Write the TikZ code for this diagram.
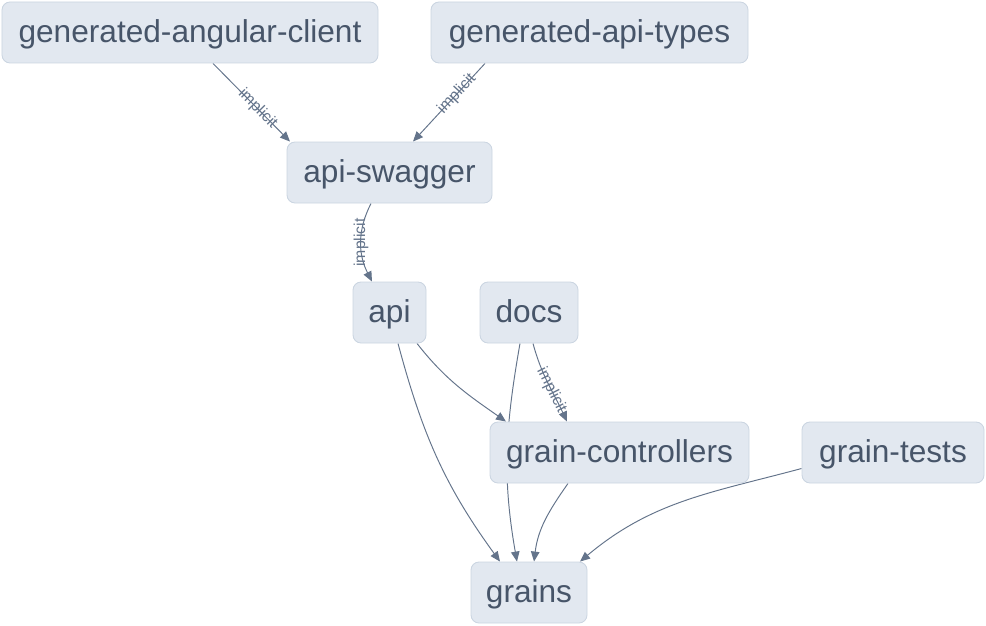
\documentclass[tikz,border=0pt]{standalone}
\usepackage{fontspec}
\setmainfont{Liberation Sans}
\usetikzlibrary{arrows.meta,backgrounds}

\definecolor{pkgfill}{HTML}{E2E8F0}
\definecolor{pkgborder}{HTML}{CBD5E1}
\definecolor{pkgtext}{HTML}{475569}
\definecolor{depline}{HTML}{64748B}

\tikzset{
  pkg/.style={draw=pkgborder, fill=pkgfill, text=pkgtext, rounded corners=0.16cm,
    minimum height=1.22cm, inner sep=0pt, line width=0.5pt,
    text height=0.5cm, text depth=0.09cm,
    font=\fontsize{18}{22}\selectfont},
  dep/.style={draw=depline, line width=0.55pt, -{Triangle[length=0.2cm,width=0.17cm]}},
  implicitlbl/.style={font=\fontsize{9}{10}\selectfont, text=depline, inner sep=0pt, sloped}
}

\begin{document}
\begin{tikzpicture}

\useasboundingbox (0,0) rectangle (19.72,-12.5);

% Project nodes
\node[pkg, minimum width=7.52cm] (gac) at (3.8,-0.65) {generated-angular-client};
\node[pkg, minimum width=6.34cm] (gat) at (11.79,-0.65) {generated-api-types};
\node[pkg, minimum width=4.1cm] (swagger) at (7.79,-3.45) {api-swagger};
\node[pkg, minimum width=1.46cm] (api) at (7.79,-6.25) {api};
\node[pkg, minimum width=1.96cm] (docs) at (10.58,-6.25) {docs};
\node[pkg, minimum width=5.18cm] (gc) at (12.39,-9.05) {grain-controllers};
\node[pkg, minimum width=3.64cm] (gtests) at (17.86,-9.05) {grain-tests};
\node[pkg, minimum width=2.32cm] (grains) at (10.58,-11.85) {grains};

% Dependencies (behind the boxes)
\begin{scope}[on background layer]
\draw[dep] ([xshift=0.46cm]gac.south) -- ([xshift=-1.99cm]swagger.north) node[implicitlbl, pos=0.58] {implicit};
\draw[dep] ([xshift=-2.09cm]gat.south) -- ([xshift=0.47cm]swagger.north) node[implicitlbl, pos=0.39] {implicit};
\draw[dep] ([xshift=-0.37cm]swagger.south) to[out=243, in=117] node[implicitlbl, sloped=false, rotate=90] {implicit} ([xshift=-0.35cm]api.north);
\draw[dep] ([xshift=0.55cm]api.south) to[out=-52, in=145] ([xshift=-2.27cm]gc.north);
\draw[dep] ([xshift=0.17cm]api.south) to[out=-75, in=126] ([xshift=-0.58cm]grains.north);
\draw[dep] ([xshift=-0.18cm]docs.south) to[out=-100, in=100] ([xshift=-0.24cm]grains.north);
\draw[dep] ([xshift=0.08cm]docs.south) to[out=-75, in=115] node[implicitlbl, pos=0.6] {implicit} ([xshift=-1.05cm]gc.north);
\draw[dep] ([xshift=-1.03cm]gc.south) to[out=-125, in=83] ([xshift=0.1cm]grains.north);
\draw[dep] ([yshift=-0.32cm]gtests.west) to[out=195, in=40] ([xshift=1.02cm]grains.north);
\end{scope}

\end{tikzpicture}
\end{document}
